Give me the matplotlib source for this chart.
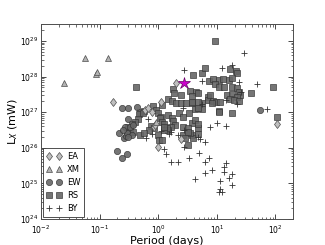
import numpy as np
import matplotlib
matplotlib.use('Agg')
import matplotlib.pyplot as plt

# values, as log10(period / days) and log10(Lx / mW)
ea_logp = [-0.77, 0.31, -0.07, 0.00, 0.39, 0.05, -0.22, -0.17, -0.10, -0.05, 2.02]
ea_logl = [27.29, 27.82, 26.58, 26.02, 26.25, 27.29, 27.06, 27.12, 27.01, 26.64, 26.67]

xm_logp = [-1.61, -1.25, -1.06, -1.05, -0.85, -0.03]
xm_logl = [27.82, 28.52, 28.08, 28.13, 28.52, 26.72]

ew_logp = [-0.62, -0.51, -0.36, -0.67, -0.58, -0.55, -0.70, -0.62, -0.53, -0.53,
           -0.44, -0.51, -0.56, -0.60, 1.73, -0.48, -0.43, -0.51]
ew_logl = [27.12, 27.12, 27.15, 26.42, 26.28, 26.34, 25.91, 25.71, 25.83, 26.42,
           26.37, 26.31, 26.58, 26.50, 27.06, 26.58, 26.64, 26.81]

rs_logp = [-0.38, 0.96, 0.60, 0.74, 0.79, 1.23, 1.32, 1.35, 0.87, 0.94,
           1.03, 1.11, 1.20, 1.26, 1.95, 1.59, 0.97, 1.04, 1.13, 1.26,
           1.35, 1.37, 1.40, 0.65, 0.68, 1.18, 1.25, 1.35, 0.85, 0.85,
           0.94, 0.99, 1.06, 1.23, 1.30, 1.38, 0.75, 0.63, 0.75, 1.03,
           1.26, 2.02, 0.67, 0.58, 0.60, 0.50, 0.26, 0.27, 0.39, 0.55,
           0.58, 0.17, 0.24, 0.31, 0.38, 0.48, 0.58, 0.68, 0.67, -0.09,
           0.07, -0.24, -0.31, -0.32, -0.03, 0.00, 0.05, -0.26, -0.34, -0.39,
           -0.44, -0.51, 0.17, 0.24, 0.26, 0.29, 0.21, 0.17, 0.36, 0.43,
           0.53, -0.12, -0.07, 0.58, 0.62, 0.67, 0.03, 0.07, 0.10, 0.15,
           0.09, -0.15, 0.43, 0.51, 0.43, 0.55, 0.68, -0.31, -0.24, 0.00,
           0.02, 0.07, -0.48, -0.43, 0.09, 0.51, 0.46, 0.89, 0.92, 1.04,
           0.58]
rs_logl = [27.71, 29.00, 28.04, 28.10, 28.24, 28.21, 28.16, 28.10, 27.88, 27.94,
           27.91, 27.94, 27.91, 27.97, 27.71, 27.54, 27.79, 27.71, 27.71, 27.71,
           27.68, 27.56, 27.48, 27.56, 27.54, 27.48, 27.51, 27.43, 27.43, 27.34,
           27.31, 27.29, 27.29, 27.37, 27.34, 27.31, 27.26, 27.09, 27.09, 27.03,
           26.98, 26.87, 26.56, 26.36, 26.28, 26.08, 27.65, 27.54, 27.48, 27.60,
           27.46, 27.37, 27.31, 27.26, 27.26, 27.26, 27.26, 27.29, 27.12, 27.17,
           27.20, 27.03, 27.01, 26.95, 27.06, 26.98, 26.87, 26.98, 26.81, 26.72,
           26.67, 26.58, 26.92, 26.84, 26.75, 26.64, 26.58, 26.50, 26.98, 26.87,
           26.98, 26.61, 26.56, 26.70, 26.78, 26.67, 26.84, 26.72, 26.67, 26.56,
           26.50, 26.50, 26.58, 26.56, 26.36, 26.42, 26.39, 26.36, 26.42, 26.36,
           26.22, 26.22, 26.50, 26.44, 26.58, 26.44, 26.28, 27.48, 27.26, 27.01,
           27.29]

by_logp = [1.47, 0.44, 1.09, 1.26, 0.75, 1.37, 1.68, 1.42, 1.15, 1.85,
           0.75, 1.35, 1.00, 0.89, 1.16, 0.72, 0.80, 0.70, 0.87, 0.79,
           1.15, 1.13, 1.13, 0.91, 0.79, 1.26, 0.62, 1.21, 1.06, 1.26,
           1.06, 1.03, 1.08, 0.19, 0.34, 0.44, 0.09, 0.14, 0.22, 0.34,
           0.53, -0.10, -0.21, 0.05, 0.21, 0.67, 0.43, -0.17, 0.44]
by_logl = [28.66, 28.19, 28.24, 28.33, 27.88, 27.85, 27.79, 27.57, 27.35, 27.09,
           27.23, 27.23, 26.70, 26.58, 26.61, 26.25, 26.16, 25.85, 25.71, 25.60,
           25.57, 25.46, 25.32, 25.38, 25.29, 25.26, 25.12, 25.15, 25.07, 24.96,
           24.84, 24.76, 24.76, 26.39, 26.36, 26.02, 25.97, 25.83, 25.60, 25.60,
           25.71, 26.39, 26.28, 26.47, 26.44, 26.30, 27.12, 26.81, 26.50]

star_logp = [0.44]
star_logl = [27.82]

fig = plt.figure(figsize=(3.25, 2.45), dpi=100)
ax = fig.add_axes([0.126, 0.106, 0.776, 0.796])

def pts(lp, ll):
    return 10 ** np.array(lp), 10 ** np.array(ll)

x, y = pts(rs_logp, rs_logl)
ax.plot(x, y, 's', ms=4.8, mfc='0.4', mec='0.2', mew=0.5, alpha=0.9, label='RS', zorder=3)
x, y = pts(ew_logp, ew_logl)
ax.plot(x, y, 'o', ms=4.5, mfc='0.4', mec='0.2', mew=0.5, alpha=0.9, label='EW', zorder=3)
x, y = pts(by_logp, by_logl)
ax.plot(x, y, '+', ms=5, mec='0.2', mew=0.6, label='BY', zorder=3)
x, y = pts(ea_logp, ea_logl)
ax.plot(x, y, 'd', ms=4.5, mfc='0.75', mec='0.3', mew=0.5, label='EA', zorder=4)
x, y = pts(xm_logp, xm_logl)
ax.plot(x, y, '^', ms=4.5, mfc='0.7', mec='0.3', mew=0.5, label='XM', zorder=4)
x, y = pts(star_logp, star_logl)
ax.plot(x, y, '*', ms=9, mfc='#cc00cc', mec='#660066', mew=0.5, zorder=5)

ax.set_xscale('log')
ax.set_yscale('log')
ax.set_xlim(1e-2, 2e2)
ax.set_ylim(1e24, 3e29)

ax.tick_params(which='both', direction='in', top=True, right=True, labelsize=5.5, pad=2)
ax.tick_params(axis='x', which='both', pad=3)
ax.tick_params(which='major', length=3.5, width=0.5)
ax.tick_params(which='minor', length=1.8, width=0.4)
for s in ax.spines.values():
    s.set_linewidth(0.7)
    s.set_color('0.3')

ax.set_xlabel('Period (days)', fontsize=8, labelpad=0)
ax.set_ylabel('L$_X$ (mW)', fontsize=8, labelpad=0)

h, l = ax.get_legend_handles_labels()
order = [l.index(k) for k in ['EA', 'XM', 'EW', 'RS', 'BY']]
leg = ax.legend([h[i] for i in order], [l[i] for i in order], loc='lower left',
                numpoints=2, fontsize=6, handlelength=1.8, handletextpad=0.6,
                borderpad=0.4, labelspacing=0.5, fancybox=False, framealpha=1,
                borderaxespad=0.3)
leg.get_frame().set_edgecolor('0.2')
leg.get_frame().set_linewidth(0.6)

fig.savefig('out.png', dpi=100)
